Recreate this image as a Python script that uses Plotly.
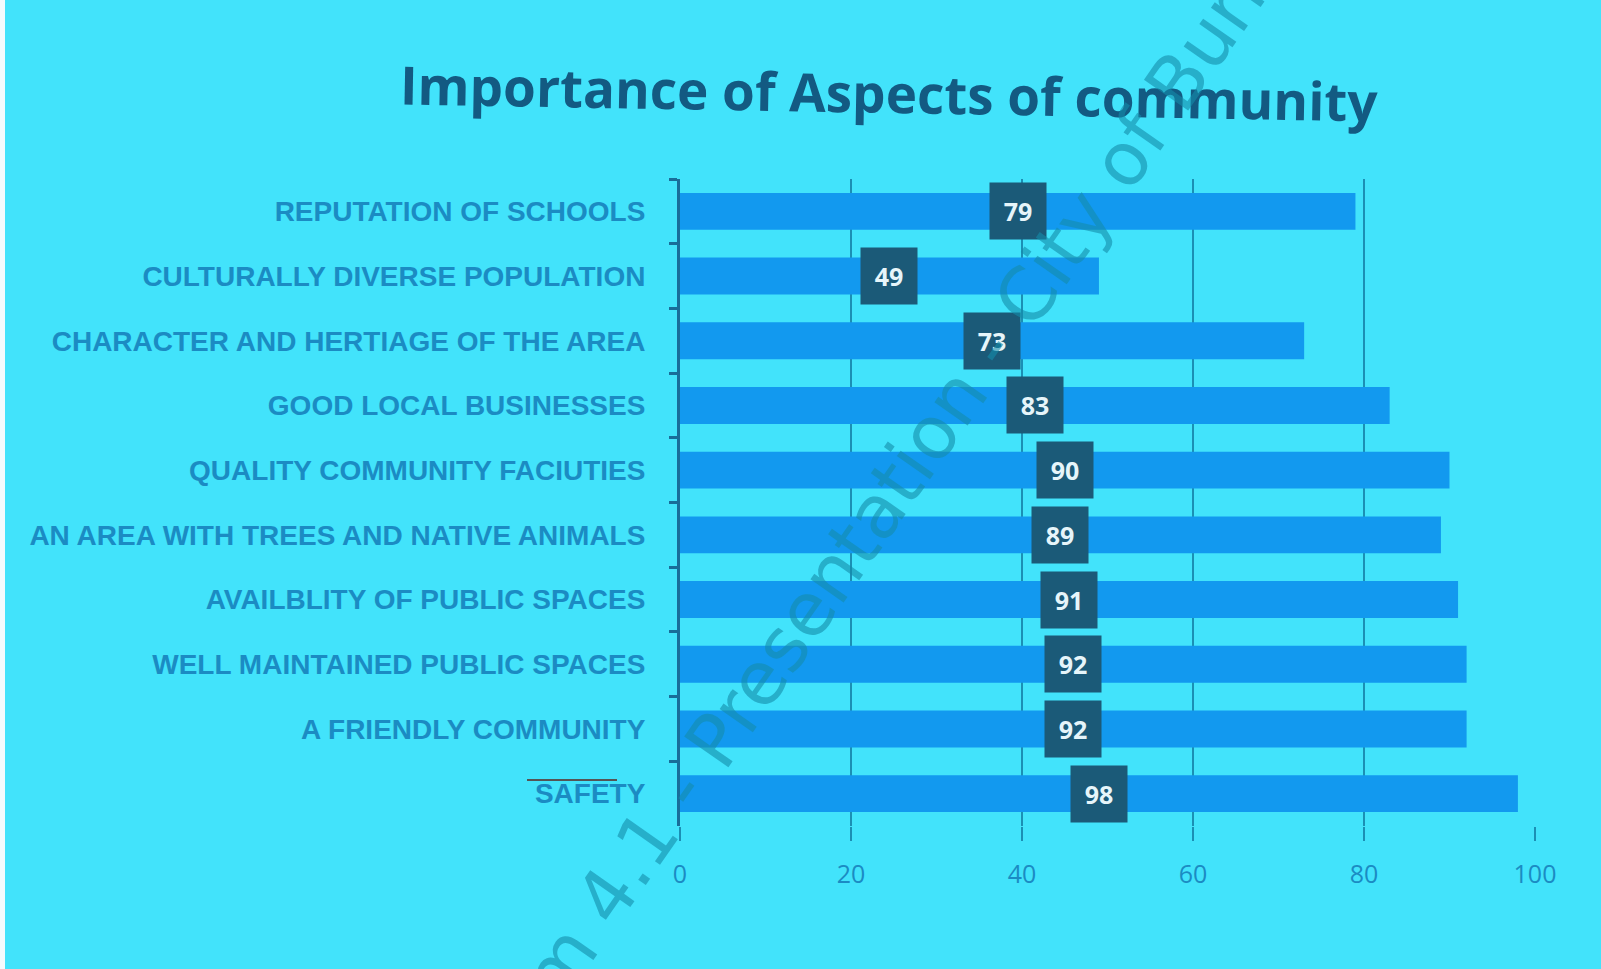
import plotly.graph_objects as go

categories = [
    "REPUTATION OF SCHOOLS",
    "CULTURALLY DIVERSE POPULATION",
    "CHARACTER AND HERTIAGE OF THE AREA",
    "GOOD LOCAL BUSINESSES",
    "QUALITY COMMUNITY FACIUTIES",
    "AN AREA WITH TREES AND NATIVE ANIMALS",
    "AVAILBLITY OF PUBLIC SPACES",
    "WELL MAINTAINED PUBLIC SPACES",
    "A FRIENDLY COMMUNITY",
    "SAFETY",
]
values = [79, 49, 73, 83, 90, 89, 91, 92, 92, 98]
x_ticks = [0, 20, 40, 60, 80, 100]
title_text = "Importance of Aspects of community"
watermark_text = "Item 4.1 - Presentation - City of Burnside"

W, H = 1601, 969
ML, MR, MT, MB = 680, 66, 179, 143
PW, PH = W - ML - MR, H - MT - MB


def px(xp):
    return (xp - ML) / PW


def py(yp):
    return (H - MB - yp) / PH


BG = "#42e3fb"
BAR = "#1299ef"
LABEL = "#1b8bc3"
BOX = "#1b5a78"
TITLE = "#135a82"

fig = go.Figure()
fig.add_trace(go.Bar(
    x=values, y=categories, orientation="h",
    marker=dict(color=BAR, line=dict(width=0)),
    hoverinfo="skip",
))

for c, v in zip(categories, values):
    fig.add_annotation(
        x=v / 2, y=c, xref="x", yref="y", text=f"<b>{v}</b>",
        showarrow=False, bgcolor=BOX, width=54, height=54,
        font=dict(family="Open Sans", size=25, color="#e6f5fa"),
    )

# title (slightly tilted like the photographed slide)
fig.add_annotation(
    x=px(889), y=py(92), xref="paper", yref="paper", xanchor="center", yanchor="middle",
    text=f"<b>{title_text}</b>", textangle=1, showarrow=False,
    font=dict(family="Open Sans", size=53, color=TITLE),
)

# watermark
fig.add_annotation(
    x=px(916), y=py(454), xref="paper", yref="paper", xanchor="center", yanchor="middle",
    text=watermark_text, textangle=-55, showarrow=False,
    font=dict(family="DejaVu Sans", size=74, color="rgba(20,140,170,0.6)"),
)

# stray pen line near SAFETY
fig.add_shape(type="line", xref="paper", yref="paper",
              x0=px(527), x1=px(617), y0=py(780), y1=py(780),
              line=dict(color="#555555", width=2))
# white strip at the left edge of the photo
fig.add_shape(type="rect", xref="paper", yref="paper",
              x0=px(0), x1=px(5), y0=py(H), y1=py(0),
              fillcolor="#f4fbfd", line=dict(width=0), layer="above")

fig.update_layout(
    width=W, height=H,
    paper_bgcolor=BG, plot_bgcolor=BG,
    margin=dict(l=ML, r=MR, t=MT, b=MB),
    bargap=0.43,
    showlegend=False,
    xaxis=dict(range=[0, 100], tickvals=x_ticks, showgrid=True,
               gridcolor="#1b8fb4", gridwidth=1.5, zeroline=False,
               showline=False, ticks="outside", ticklen=14, tickcolor="#1b8fb4",
               tickwidth=1.5, ticklabelstandoff=12,
               tickfont=dict(family="Open Sans", size=25, color=LABEL),
               fixedrange=True),
    yaxis=dict(autorange="reversed", showline=True, linecolor="#196d99",
               linewidth=3, ticks="outside", tickson="boundaries", ticklen=8,
               tickcolor="#196d99", tickwidth=3, showgrid=False,
               tickfont=dict(family="Liberation Sans", size=28, color=LABEL, weight="bold"),
               ticklabelstandoff=26, fixedrange=True),
)

fig.write_html("out.html", config={"displayModeBar": False},
               post_script="document.body.style.margin='0';document.body.style.overflow='hidden';")
